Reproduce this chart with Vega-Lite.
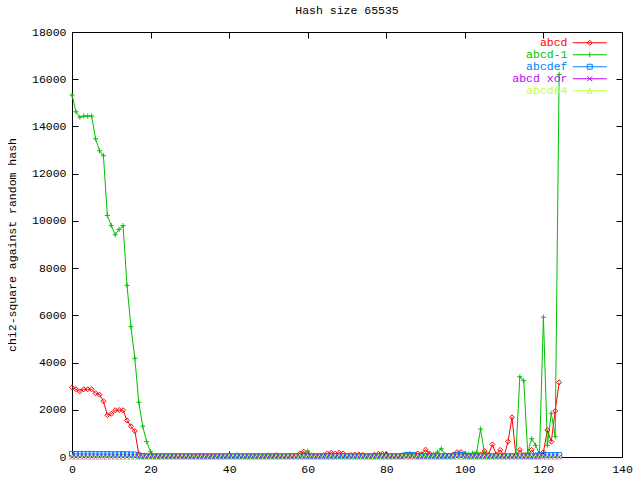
{
"$schema":"https://vega.github.io/schema/vega-lite/v6.json",
"width":550,"height":425,
"autosize":{"type":"none"},
"padding":{"left":72,"top":32,"right":18,"bottom":23},
"background":"#ffffff",
"title":{"text":"Hash size 65535","font":"Liberation Mono","fontSize":11.5,"fontWeight":"normal","color":"#000000","anchor":"middle","offset":10},
"data":{"values":[
{"x":0,"abcd":2950,"abcd-1":15330,"abcdef":130,"abcd xor":0,"abcd64":5},
{"x":1,"abcd":2870,"abcd-1":14620,"abcdef":130,"abcd xor":0,"abcd64":5},
{"x":2,"abcd":2780,"abcd-1":14390,"abcdef":130,"abcd xor":0,"abcd64":5},
{"x":3,"abcd":2870,"abcd-1":14440,"abcdef":130,"abcd xor":0,"abcd64":5},
{"x":4,"abcd":2870,"abcd-1":14440,"abcdef":130,"abcd xor":0,"abcd64":5},
{"x":5,"abcd":2870,"abcd-1":14440,"abcdef":130,"abcd xor":0,"abcd64":5},
{"x":6,"abcd":2700,"abcd-1":13480,"abcdef":120,"abcd xor":0,"abcd64":5},
{"x":7,"abcd":2640,"abcd-1":12970,"abcdef":120,"abcd xor":0,"abcd64":5},
{"x":8,"abcd":2360,"abcd-1":12760,"abcdef":120,"abcd xor":0,"abcd64":5},
{"x":9,"abcd":1770,"abcd-1":10230,"abcdef":120,"abcd xor":0,"abcd64":5},
{"x":10,"abcd":1830,"abcd-1":9800,"abcdef":120,"abcd xor":0,"abcd64":5},
{"x":11,"abcd":1980,"abcd-1":9410,"abcdef":110,"abcd xor":0,"abcd64":5},
{"x":12,"abcd":1990,"abcd-1":9640,"abcdef":120,"abcd xor":0,"abcd64":5},
{"x":13,"abcd":1980,"abcd-1":9800,"abcdef":120,"abcd xor":0,"abcd64":5},
{"x":14,"abcd":1550,"abcd-1":7270,"abcdef":110,"abcd xor":0,"abcd64":5},
{"x":15,"abcd":1300,"abcd-1":5520,"abcdef":110,"abcd xor":0,"abcd64":5},
{"x":16,"abcd":1100,"abcd-1":4180,"abcdef":100,"abcd xor":0,"abcd64":5},
{"x":17,"abcd":130,"abcd-1":2320,"abcdef":60,"abcd xor":0,"abcd64":5},
{"x":18,"abcd":50,"abcd-1":1310,"abcdef":40,"abcd xor":0,"abcd64":5},
{"x":19,"abcd":40,"abcd-1":650,"abcdef":30,"abcd xor":0,"abcd64":5},
{"x":20,"abcd":60,"abcd-1":225,"abcdef":30,"abcd xor":0,"abcd64":5},
{"x":21,"abcd":40,"abcd-1":60,"abcdef":30,"abcd xor":0,"abcd64":5},
{"x":22,"abcd":30,"abcd-1":50,"abcdef":30,"abcd xor":0,"abcd64":5},
{"x":23,"abcd":50,"abcd-1":40,"abcdef":30,"abcd xor":0,"abcd64":5},
{"x":24,"abcd":30,"abcd-1":60,"abcdef":30,"abcd xor":0,"abcd64":5},
{"x":25,"abcd":40,"abcd-1":50,"abcdef":30,"abcd xor":0,"abcd64":5},
{"x":26,"abcd":30,"abcd-1":40,"abcdef":30,"abcd xor":0,"abcd64":5},
{"x":27,"abcd":50,"abcd-1":60,"abcdef":30,"abcd xor":0,"abcd64":5},
{"x":28,"abcd":40,"abcd-1":50,"abcdef":30,"abcd xor":0,"abcd64":5},
{"x":29,"abcd":30,"abcd-1":40,"abcdef":30,"abcd xor":0,"abcd64":5},
{"x":30,"abcd":40,"abcd-1":50,"abcdef":30,"abcd xor":0,"abcd64":5},
{"x":31,"abcd":30,"abcd-1":60,"abcdef":30,"abcd xor":0,"abcd64":5},
{"x":32,"abcd":50,"abcd-1":40,"abcdef":30,"abcd xor":0,"abcd64":5},
{"x":33,"abcd":40,"abcd-1":50,"abcdef":30,"abcd xor":0,"abcd64":5},
{"x":34,"abcd":30,"abcd-1":60,"abcdef":30,"abcd xor":0,"abcd64":5},
{"x":35,"abcd":40,"abcd-1":40,"abcdef":30,"abcd xor":0,"abcd64":5},
{"x":36,"abcd":30,"abcd-1":50,"abcdef":30,"abcd xor":0,"abcd64":5},
{"x":37,"abcd":40,"abcd-1":60,"abcdef":30,"abcd xor":0,"abcd64":5},
{"x":38,"abcd":50,"abcd-1":40,"abcdef":30,"abcd xor":0,"abcd64":5},
{"x":39,"abcd":30,"abcd-1":50,"abcdef":30,"abcd xor":0,"abcd64":5},
{"x":40,"abcd":40,"abcd-1":60,"abcdef":30,"abcd xor":0,"abcd64":5},
{"x":41,"abcd":30,"abcd-1":50,"abcdef":30,"abcd xor":0,"abcd64":5},
{"x":42,"abcd":40,"abcd-1":100,"abcdef":30,"abcd xor":0,"abcd64":5},
{"x":43,"abcd":50,"abcd-1":50,"abcdef":30,"abcd xor":0,"abcd64":5},
{"x":44,"abcd":30,"abcd-1":40,"abcdef":30,"abcd xor":0,"abcd64":5},
{"x":45,"abcd":40,"abcd-1":60,"abcdef":30,"abcd xor":0,"abcd64":5},
{"x":46,"abcd":30,"abcd-1":50,"abcdef":30,"abcd xor":0,"abcd64":5},
{"x":47,"abcd":50,"abcd-1":40,"abcdef":30,"abcd xor":0,"abcd64":5},
{"x":48,"abcd":40,"abcd-1":60,"abcdef":30,"abcd xor":0,"abcd64":5},
{"x":49,"abcd":30,"abcd-1":50,"abcdef":30,"abcd xor":0,"abcd64":5},
{"x":50,"abcd":60,"abcd-1":80,"abcdef":30,"abcd xor":0,"abcd64":5},
{"x":51,"abcd":40,"abcd-1":50,"abcdef":30,"abcd xor":0,"abcd64":5},
{"x":52,"abcd":80,"abcd-1":40,"abcdef":30,"abcd xor":0,"abcd64":5},
{"x":53,"abcd":40,"abcd-1":60,"abcdef":30,"abcd xor":0,"abcd64":5},
{"x":54,"abcd":30,"abcd-1":50,"abcdef":30,"abcd xor":0,"abcd64":5},
{"x":55,"abcd":40,"abcd-1":40,"abcdef":30,"abcd xor":0,"abcd64":5},
{"x":56,"abcd":50,"abcd-1":60,"abcdef":30,"abcd xor":0,"abcd64":5},
{"x":57,"abcd":60,"abcd-1":60,"abcdef":30,"abcd xor":0,"abcd64":5},
{"x":58,"abcd":150,"abcd-1":80,"abcdef":30,"abcd xor":0,"abcd64":5},
{"x":59,"abcd":225,"abcd-1":120,"abcdef":30,"abcd xor":0,"abcd64":5},
{"x":60,"abcd":100,"abcd-1":254,"abcdef":30,"abcd xor":0,"abcd64":5},
{"x":61,"abcd":40,"abcd-1":80,"abcdef":30,"abcd xor":0,"abcd64":5},
{"x":62,"abcd":50,"abcd-1":50,"abcdef":30,"abcd xor":0,"abcd64":5},
{"x":63,"abcd":50,"abcd-1":40,"abcdef":30,"abcd xor":0,"abcd64":5},
{"x":64,"abcd":80,"abcd-1":60,"abcdef":30,"abcd xor":0,"abcd64":5},
{"x":65,"abcd":150,"abcd-1":50,"abcdef":30,"abcd xor":0,"abcd64":5},
{"x":66,"abcd":180,"abcd-1":40,"abcdef":30,"abcd xor":0,"abcd64":5},
{"x":67,"abcd":140,"abcd-1":60,"abcdef":30,"abcd xor":0,"abcd64":5},
{"x":68,"abcd":180,"abcd-1":50,"abcdef":30,"abcd xor":0,"abcd64":5},
{"x":69,"abcd":150,"abcd-1":40,"abcdef":30,"abcd xor":0,"abcd64":5},
{"x":70,"abcd":60,"abcd-1":60,"abcdef":30,"abcd xor":0,"abcd64":5},
{"x":71,"abcd":80,"abcd-1":50,"abcdef":30,"abcd xor":0,"abcd64":5},
{"x":72,"abcd":100,"abcd-1":40,"abcdef":30,"abcd xor":0,"abcd64":5},
{"x":73,"abcd":110,"abcd-1":60,"abcdef":30,"abcd xor":0,"abcd64":5},
{"x":74,"abcd":90,"abcd-1":50,"abcdef":30,"abcd xor":0,"abcd64":5},
{"x":75,"abcd":40,"abcd-1":40,"abcdef":30,"abcd xor":0,"abcd64":5},
{"x":76,"abcd":40,"abcd-1":60,"abcdef":30,"abcd xor":0,"abcd64":5},
{"x":77,"abcd":100,"abcd-1":50,"abcdef":30,"abcd xor":0,"abcd64":5},
{"x":78,"abcd":130,"abcd-1":40,"abcdef":30,"abcd xor":0,"abcd64":5},
{"x":79,"abcd":140,"abcd-1":60,"abcdef":30,"abcd xor":0,"abcd64":5},
{"x":80,"abcd":120,"abcd-1":50,"abcdef":30,"abcd xor":0,"abcd64":5},
{"x":81,"abcd":50,"abcd-1":40,"abcdef":30,"abcd xor":0,"abcd64":5},
{"x":82,"abcd":40,"abcd-1":60,"abcdef":30,"abcd xor":0,"abcd64":5},
{"x":83,"abcd":40,"abcd-1":50,"abcdef":30,"abcd xor":0,"abcd64":5},
{"x":84,"abcd":40,"abcd-1":80,"abcdef":40,"abcd xor":0,"abcd64":5},
{"x":85,"abcd":50,"abcd-1":120,"abcdef":80,"abcd xor":0,"abcd64":5},
{"x":86,"abcd":40,"abcd-1":140,"abcdef":90,"abcd xor":0,"abcd64":5},
{"x":87,"abcd":50,"abcd-1":100,"abcdef":80,"abcd xor":0,"abcd64":5},
{"x":88,"abcd":150,"abcd-1":60,"abcdef":40,"abcd xor":0,"abcd64":5},
{"x":89,"abcd":120,"abcd-1":120,"abcdef":30,"abcd xor":0,"abcd64":5},
{"x":90,"abcd":310,"abcd-1":100,"abcdef":30,"abcd xor":0,"abcd64":5},
{"x":91,"abcd":150,"abcd-1":140,"abcdef":30,"abcd xor":0,"abcd64":5},
{"x":92,"abcd":60,"abcd-1":120,"abcdef":30,"abcd xor":0,"abcd64":5},
{"x":93,"abcd":40,"abcd-1":200,"abcdef":30,"abcd xor":0,"abcd64":5},
{"x":94,"abcd":50,"abcd-1":350,"abcdef":30,"abcd xor":0,"abcd64":5},
{"x":95,"abcd":40,"abcd-1":100,"abcdef":30,"abcd xor":0,"abcd64":5},
{"x":96,"abcd":60,"abcd-1":50,"abcdef":30,"abcd xor":0,"abcd64":5},
{"x":97,"abcd":100,"abcd-1":60,"abcdef":30,"abcd xor":0,"abcd64":5},
{"x":98,"abcd":200,"abcd-1":100,"abcdef":80,"abcd xor":0,"abcd64":5},
{"x":99,"abcd":210,"abcd-1":60,"abcdef":90,"abcd xor":0,"abcd64":5},
{"x":100,"abcd":80,"abcd-1":150,"abcdef":60,"abcd xor":0,"abcd64":5},
{"x":101,"abcd":60,"abcd-1":120,"abcdef":30,"abcd xor":0,"abcd64":5},
{"x":102,"abcd":80,"abcd-1":160,"abcdef":30,"abcd xor":0,"abcd64":5},
{"x":103,"abcd":60,"abcd-1":200,"abcdef":30,"abcd xor":0,"abcd64":5},
{"x":104,"abcd":100,"abcd-1":1185,"abcdef":30,"abcd xor":0,"abcd64":5},
{"x":105,"abcd":250,"abcd-1":150,"abcdef":30,"abcd xor":0,"abcd64":5},
{"x":106,"abcd":100,"abcd-1":40,"abcdef":30,"abcd xor":0,"abcd64":5},
{"x":107,"abcd":530,"abcd-1":60,"abcdef":30,"abcd xor":0,"abcd64":5},
{"x":108,"abcd":100,"abcd-1":50,"abcdef":30,"abcd xor":0,"abcd64":5},
{"x":109,"abcd":300,"abcd-1":60,"abcdef":30,"abcd xor":0,"abcd64":5},
{"x":110,"abcd":60,"abcd-1":40,"abcdef":30,"abcd xor":0,"abcd64":5},
{"x":111,"abcd":650,"abcd-1":50,"abcdef":30,"abcd xor":0,"abcd64":5},
{"x":112,"abcd":1680,"abcd-1":60,"abcdef":30,"abcd xor":0,"abcd64":5},
{"x":113,"abcd":60,"abcd-1":130,"abcdef":30,"abcd xor":0,"abcd64":5},
{"x":114,"abcd":300,"abcd-1":3400,"abcdef":30,"abcd xor":0,"abcd64":5},
{"x":115,"abcd":80,"abcd-1":3230,"abcdef":30,"abcd xor":0,"abcd64":5},
{"x":116,"abcd":60,"abcd-1":180,"abcdef":30,"abcd xor":0,"abcd64":5},
{"x":117,"abcd":300,"abcd-1":775,"abcdef":30,"abcd xor":0,"abcd64":5},
{"x":118,"abcd":80,"abcd-1":495,"abcdef":30,"abcd xor":0,"abcd64":5},
{"x":119,"abcd":40,"abcd-1":130,"abcdef":80,"abcd xor":0,"abcd64":5},
{"x":120,"abcd":200,"abcd-1":5920,"abcdef":80,"abcd xor":0,"abcd64":5},
{"x":121,"abcd":1140,"abcd-1":500,"abcdef":80,"abcd xor":0,"abcd64":5},
{"x":122,"abcd":650,"abcd-1":1850,"abcdef":80,"abcd xor":0,"abcd64":5},
{"x":123,"abcd":1950,"abcd-1":860,"abcdef":80,"abcd xor":0,"abcd64":5},
{"x":124,"abcd":3160,"abcd-1":16200,"abcdef":80,"abcd xor":0,"abcd64":5}
]},
"transform":[{"fold":["abcd","abcd-1","abcdef","abcd xor","abcd64"],"as":["series","y"]}],
"layer":[
{"mark":{"type":"line","strokeWidth":1,"clip":false},
 "encoding":{
  "x":{"field":"x","type":"quantitative","scale":{"domain":[0,140],"nice":false,"zero":false},
       "axis":{"orient":"bottom","values":[0,20,40,60,80,100,120,140],"title":null,"labelFlush":false,"labelOverlap":false}},
  "y":{"field":"y","type":"quantitative","scale":{"domain":[0,18000],"nice":false},
       "axis":{"orient":"left","values":[0,2000,4000,6000,8000,10000,12000,14000,16000,18000],"format":"d","title":"chi2-square against random hash","labelFlush":false,"labelOverlap":false}},
  "color":{"field":"series","type":"nominal",
    "scale":{"domain":["abcd","abcd-1","abcdef","abcd xor","abcd64"],"range":["#ff0000","#00c000","#0080ff","#c000ff","#c0ff40"]},
    "sort":["abcd","abcd-1","abcdef","abcd xor","abcd64"],
    "legend":{"title":null,"orient":"none","legendX":512,"legendY":5,"padding":0,
      "labelFont":"Liberation Mono","labelFontSize":11.5,"labelAlign":"right","labelOffset":-28,"labelBaseline":"middle",
      "symbolSize":64,"symbolStrokeWidth":1,"rowPadding":-2.4,
      "encode":{
        "symbols":{"update":{
          "fill":{"value":"transparent"},
          "strokeWidth":{"value":1},
          "shape":{"signal":"datum.value === 'abcd' ? 'M-4.25,0L4.25,0M0,-0.625L0.625,0L0,0.625L-0.625,0Z' : datum.value === 'abcd-1' ? 'M-4.25,0L4.25,0M0,-0.625L0,0.625' : datum.value === 'abcdef' ? 'M-4.25,0L4.25,0M-0.625,-0.625L0.625,-0.625L0.625,0.625L-0.625,0.625Z' : datum.value === 'abcd xor' ? 'M-4.25,0L4.25,0M-0.625,-0.625L0.625,0.625M-0.625,0.625L0.625,-0.625' : 'M-4.25,0L4.25,0M0,-0.625L0.625,0.625L-0.625,0.625Z'"}
        }},
        "labels":{"update":{"fill":{"scale":"color","field":"value"}}}
      }}}
 }},
{"mark":{"type":"point","filled":false,"size":25,"strokeWidth":1,"opacity":1,"clip":false},
 "encoding":{
  "x":{"field":"x","type":"quantitative","axis":{"orient":"top","values":[0,20,40,60,80,100,120,140],"labels":false,"title":null,"domain":false}},
  "y":{"field":"y","type":"quantitative","axis":{"orient":"right","values":[0,2000,4000,6000,8000,10000,12000,14000,16000,18000],"labels":false,"title":null,"domain":false}},
  "color":{"field":"series","type":"nominal","legend":null},
  "shape":{"field":"series","type":"nominal","legend":null,
    "scale":{"domain":["abcd64","abcd xor","abcdef","abcd-1","abcd"],
      "range":["M0,-1L1,1L-1,1Z","M-1,-1L1,1M-1,1L1,-1","M-1,-1L1,-1L1,1L-1,1Z","M-1,0L1,0M0,-1L0,1","M0,-1L1,0L0,1L-1,0Z"]}}
 }}
],
"resolve":{"axis":{"x":"independent","y":"independent"}},
"config":{
 "view":{"stroke":"#000000","strokeWidth":1},
 "axis":{"grid":false,"domainColor":"#000000","domainWidth":1,"tickColor":"#000000","tickSize":-6,"tickWidth":1,
   "labelColor":"#000000","labelFont":"Liberation Mono","labelFontSize":11.5,"labelPadding":12,
   "titleFont":"Liberation Mono","titleFontSize":11.5,"titleFontWeight":"normal","titleColor":"#000000"},
 "axisY":{"titlePadding":14}
}
}
